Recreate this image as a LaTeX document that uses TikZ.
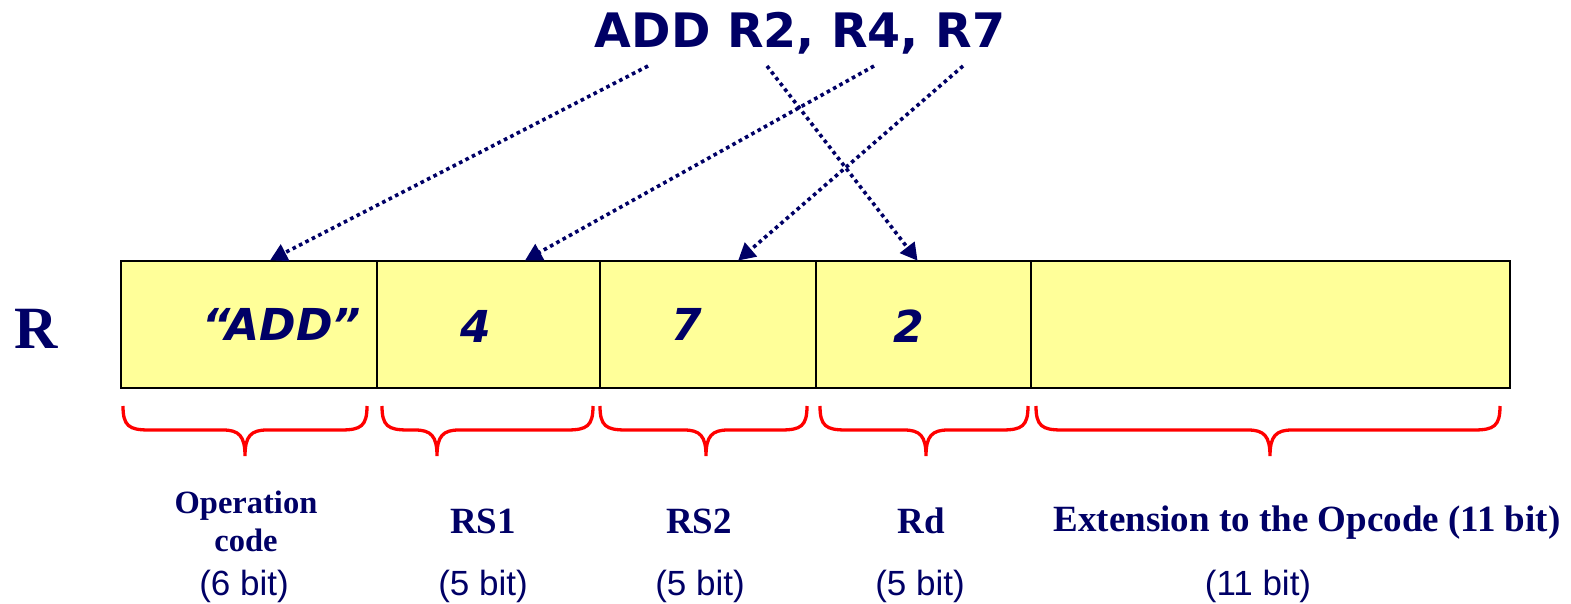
\documentclass[tikz,border=0pt]{standalone}
\usepackage{fontspec}
\setmainfont{Liberation Serif}
\newfontfamily\verd{DejaVu Sans}
\newfontfamily\arial{Liberation Sans}
\usetikzlibrary{arrows.meta,calc}
\definecolor{navy}{HTML}{000066}
\definecolor{cellyellow}{HTML}{FFFF99}
\newcommand\mybrace[4]{% name, left, right, tip
  \draw[bracestyle] (#2,406) .. controls (#2,426) and (#2+6,430) .. (#2+26,430)
    -- (#4-22,430) .. controls (#4-6,430) and (#4,436) .. (#4,456)
    .. controls (#4,436) and (#4+6,430) .. (#4+22,430)
    -- (#3-26,430) .. controls (#3-6,430) and (#3,426) .. (#3,406);
  \coordinate (#1) at (#4,456);}
\begin{document}
\begin{tikzpicture}[x=1pt,y=-1pt,
  cell/.style={draw=black, line width=2.2pt, fill=cellyellow, inner sep=0pt, minimum height=127pt},
  celltext/.style={text=navy, font=\verd\bfseries\itshape\fontsize{44}{50}\selectfont},
  arr/.style={navy, line width=3.6pt, dash pattern=on 3.6pt off 3.6pt, -{Triangle[length=17pt,width=18pt]}, shorten >=-1pt},
  bracestyle/.style={red, line width=3.3pt},
  lab/.style={text=navy, font=\bfseries\fontsize{37}{42}\selectfont, align=center},
  bits/.style={text=navy, font=\arial\fontsize{35}{40}\selectfont}]
\useasboundingbox (0,0) rectangle (1571,604);
\node[text=navy, font=\verd\bfseries\fontsize{47.5}{52}\selectfont, anchor=base] (title) at (800,48) {ADD R2, R4, R7};
\node[text=navy, font=\bfseries\fontsize{60}{66}\selectfont, anchor=base] (R) at (36,348) {R};
\node[cell, minimum width=256pt] (c1) at (249,324.5) {};
\node[cell, minimum width=223pt] (c2) at (488.5,324.5) {};
\node[cell, minimum width=216pt] (c3) at (708,324.5) {};
\node[cell, minimum width=215pt] (c4) at (923.5,324.5) {};
\node[cell, minimum width=479pt] (c5) at (1270.5,324.5) {};
\node[celltext, anchor=base] (t1) at (282,340) {“ADD”};
\node[celltext, anchor=base] (t2) at (476,342) {4};
\node[celltext, anchor=base] (t3) at (687,340) {7};
\node[celltext, anchor=base] (t4) at (909,342) {2};
\coordinate (s1) at (648,66);
\coordinate (s2) at (767,66);
\coordinate (s3) at (874,66);
\coordinate (s4) at (963,66);
\draw[arr] (s1) -- ($(c1.north west)+(151,0)$);
\draw[arr] (s2) -- ($(c4.north west)+(102,0)$);
\draw[arr] (s3) -- ($(c2.north west)+(150,0)$);
\draw[arr] (s4) -- ($(c3.north west)+(140,0)$);
\mybrace{b1}{123}{367}{245}
\mybrace{b2}{382}{593}{437}
\mybrace{b3}{600}{807}{706}
\mybrace{b4}{820}{1028}{926}
\mybrace{b5}{1036}{1500}{1270}
\node[lab, anchor=base, font=\bfseries\fontsize{32.5}{38}\selectfont] (l1a) at (246,513) {Operation};
\node[lab, anchor=base, font=\bfseries\fontsize{32.5}{38}\selectfont] (l1b) at (246,551) {code};
\node[lab, anchor=base] (l2) at (483,533) {RS1};
\node[lab, anchor=base] (l3) at (699,533) {RS2};
\node[lab, anchor=base] (l4) at (921,533) {Rd};
\node[lab, anchor=base] (l5) at (1307,531) {Extension to the Opcode (11 bit)};
\node[bits, anchor=base] (p1) at (244,595) {(6 bit)};
\node[bits, anchor=base] (p2) at (483,595) {(5 bit)};
\node[bits, anchor=base] (p3) at (700,595) {(5 bit)};
\node[bits, anchor=base] (p4) at (920,595) {(5 bit)};
\node[bits, anchor=base] (p5) at (1258,595) {(11 bit)};
\end{tikzpicture}
\end{document}
